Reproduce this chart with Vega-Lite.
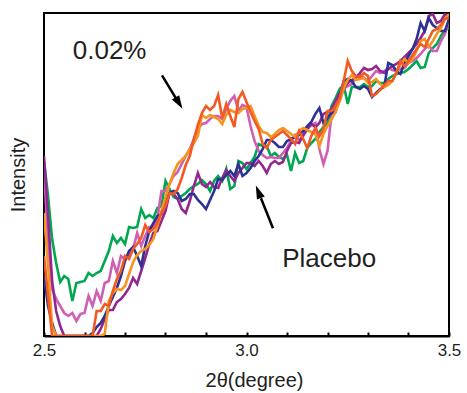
{
"$schema": "https://vega.github.io/schema/vega-lite/v6.json",
"width": 405, "height": 323,
"autosize": {"type": "none"},
"padding": {"left": 44, "top": 13, "right": 18, "bottom": 57},
"background": "white",
"config": {"view": {"stroke": "#000", "strokeWidth": 2}, "font": "Liberation Sans"},
"datasets": {
"xrd": [
{"x":2.50,"green":175,"pink":167,"purple":180,"blue":60,"orange":123,"red":80},
{"x":2.51,"green":140,"pink":95,"purple":120,"blue":30,"orange":70,"red":40},
{"x":2.52,"green":97,"pink":47,"purple":55,"blue":13,"orange":10,"red":0},
{"x":2.53,"green":73,"pink":37,"purple":25,"blue":0,"orange":0,"red":0},
{"x":2.54,"green":54,"pink":30,"purple":10,"blue":0,"orange":0,"red":0},
{"x":2.55,"green":60,"pink":23,"purple":0,"blue":0,"orange":0,"red":0},
{"x":2.56,"green":57,"pink":20,"purple":0,"blue":0,"orange":0,"red":0},
{"x":2.57,"green":35,"pink":23,"purple":0,"blue":0,"orange":0,"red":0},
{"x":2.58,"green":53,"pink":15,"purple":0,"blue":0,"orange":0,"red":0},
{"x":2.59,"green":54,"pink":22,"purple":0,"blue":0,"orange":0,"red":0},
{"x":2.60,"green":55,"pink":23,"purple":0,"blue":0,"orange":0,"red":0},
{"x":2.61,"green":63,"pink":40,"purple":0,"blue":0,"orange":0,"red":0},
{"x":2.62,"green":60,"pink":30,"purple":0,"blue":3,"orange":0,"red":0},
{"x":2.63,"green":63,"pink":45,"purple":0,"blue":9,"orange":0,"red":25},
{"x":2.64,"green":65,"pink":35,"purple":7,"blue":13,"orange":0,"red":25},
{"x":2.65,"green":75,"pink":53,"purple":17,"blue":20,"orange":2,"red":32},
{"x":2.66,"green":85,"pink":55,"purple":26,"blue":30,"orange":35,"red":30},
{"x":2.67,"green":100,"pink":75,"purple":26,"blue":39,"orange":43,"red":45},
{"x":2.68,"green":93,"pink":63,"purple":34,"blue":48,"orange":47,"red":57},
{"x":2.69,"green":98,"pink":80,"purple":37,"blue":60,"orange":46,"red":65},
{"x":2.70,"green":92,"pink":77,"purple":42,"blue":75,"orange":50,"red":80},
{"x":2.71,"green":109,"pink":81,"purple":48,"blue":85,"orange":62,"red":77},
{"x":2.72,"green":108,"pink":87,"purple":58,"blue":89,"orange":74,"red":87},
{"x":2.73,"green":109,"pink":103,"purple":52,"blue":80,"orange":81,"red":92},
{"x":2.74,"green":127,"pink":90,"purple":65,"blue":70,"orange":85,"red":98},
{"x":2.75,"green":118,"pink":100,"purple":78,"blue":90,"orange":87,"red":111},
{"x":2.76,"green":121,"pink":109,"purple":92,"blue":105,"orange":91,"red":104},
{"x":2.77,"green":118,"pink":109,"purple":103,"blue":113,"orange":97,"red":107},
{"x":2.78,"green":128,"pink":117,"purple":105,"blue":120,"orange":110,"red":113},
{"x":2.79,"green":130,"pink":145,"purple":115,"blue":122,"orange":125,"red":123},
{"x":2.80,"green":155,"pink":145,"purple":125,"blue":135,"orange":139,"red":130},
{"x":2.81,"green":147,"pink":152,"purple":143,"blue":143,"orange":152,"red":143},
{"x":2.82,"green":139,"pink":160,"purple":142,"blue":145,"orange":163,"red":142},
{"x":2.83,"green":137,"pink":164,"purple":137,"blue":143,"orange":172,"red":147},
{"x":2.84,"green":140,"pink":172,"purple":127,"blue":135,"orange":176,"red":158},
{"x":2.85,"green":143,"pink":180,"purple":123,"blue":137,"orange":180,"red":171},
{"x":2.86,"green":147,"pink":187,"purple":135,"blue":142,"orange":187,"red":180},
{"x":2.87,"green":150,"pink":197,"purple":150,"blue":142,"orange":193,"red":197},
{"x":2.88,"green":152,"pink":207,"purple":163,"blue":136,"orange":200,"red":211},
{"x":2.89,"green":156,"pink":212,"purple":152,"blue":132,"orange":221,"red":223},
{"x":2.90,"green":152,"pink":213,"purple":149,"blue":127,"orange":218,"red":230},
{"x":2.91,"green":145,"pink":217,"purple":154,"blue":136,"orange":221,"red":226},
{"x":2.92,"green":155,"pink":220,"purple":149,"blue":145,"orange":219,"red":230},
{"x":2.93,"green":160,"pink":220,"purple":148,"blue":157,"orange":217,"red":241},
{"x":2.94,"green":155,"pink":217,"purple":158,"blue":156,"orange":212,"red":218},
{"x":2.95,"green":167,"pink":227,"purple":166,"blue":161,"orange":221,"red":232},
{"x":2.96,"green":147,"pink":235,"purple":160,"blue":165,"orange":226,"red":220},
{"x":2.97,"green":150,"pink":240,"purple":155,"blue":160,"orange":224,"red":209},
{"x":2.98,"green":175,"pink":225,"purple":163,"blue":172,"orange":223,"red":237},
{"x":2.99,"green":173,"pink":231,"purple":168,"blue":160,"orange":227,"red":244},
{"x":3.00,"green":167,"pink":229,"purple":173,"blue":163,"orange":228,"red":234},
{"x":3.01,"green":173,"pink":210,"purple":173,"blue":168,"orange":230,"red":224},
{"x":3.02,"green":179,"pink":195,"purple":170,"blue":175,"orange":220,"red":215},
{"x":3.03,"green":192,"pink":185,"purple":175,"blue":180,"orange":210,"red":207},
{"x":3.04,"green":190,"pink":181,"purple":170,"blue":187,"orange":204,"red":192},
{"x":3.05,"green":190,"pink":178,"purple":163,"blue":196,"orange":203,"red":188},
{"x":3.06,"green":180,"pink":179,"purple":172,"blue":196,"orange":199,"red":196},
{"x":3.07,"green":183,"pink":178,"purple":175,"blue":193,"orange":202,"red":199},
{"x":3.08,"green":179,"pink":178,"purple":172,"blue":189,"orange":206,"red":202},
{"x":3.09,"green":177,"pink":183,"purple":174,"blue":189,"orange":208,"red":205},
{"x":3.10,"green":181,"pink":188,"purple":185,"blue":195,"orange":205,"red":201},
{"x":3.11,"green":165,"pink":195,"purple":193,"blue":197,"orange":202,"red":197},
{"x":3.12,"green":183,"pink":201,"purple":194,"blue":199,"orange":199,"red":192},
{"x":3.13,"green":173,"pink":196,"purple":193,"blue":201,"orange":205,"red":205},
{"x":3.14,"green":175,"pink":200,"purple":201,"blue":205,"orange":208,"red":197},
{"x":3.15,"green":188,"pink":207,"purple":207,"blue":210,"orange":206,"red":188},
{"x":3.16,"green":193,"pink":211,"purple":212,"blue":214,"orange":204,"red":200},
{"x":3.17,"green":197,"pink":213,"purple":209,"blue":222,"orange":202,"red":208},
{"x":3.18,"green":204,"pink":187,"purple":213,"blue":228,"orange":190,"red":200},
{"x":3.19,"green":209,"pink":172,"purple":222,"blue":213,"orange":202,"red":207},
{"x":3.20,"green":213,"pink":185,"purple":224,"blue":218,"orange":210,"red":225},
{"x":3.21,"green":230,"pink":222,"purple":227,"blue":223,"orange":217,"red":225},
{"x":3.22,"green":238,"pink":227,"purple":235,"blue":224,"orange":224,"red":230},
{"x":3.23,"green":247,"pink":235,"purple":243,"blue":240,"orange":235,"red":238},
{"x":3.24,"green":251,"pink":247,"purple":248,"blue":255,"orange":248,"red":255},
{"x":3.25,"green":232,"pink":250,"purple":253,"blue":257,"orange":256,"red":275},
{"x":3.26,"green":249,"pink":252,"purple":256,"blue":255,"orange":261,"red":265},
{"x":3.27,"green":249,"pink":259,"purple":258,"blue":249,"orange":256,"red":260},
{"x":3.28,"green":249,"pink":262,"purple":263,"blue":247,"orange":257,"red":259},
{"x":3.29,"green":252,"pink":258,"purple":268,"blue":250,"orange":258,"red":263},
{"x":3.30,"green":249,"pink":255,"purple":266,"blue":247,"orange":253,"red":260},
{"x":3.31,"green":250,"pink":260,"purple":267,"blue":239,"orange":254,"red":240},
{"x":3.32,"green":255,"pink":265,"purple":270,"blue":243,"orange":257,"red":242},
{"x":3.33,"green":253,"pink":263,"purple":265,"blue":247,"orange":252,"red":246},
{"x":3.34,"green":253,"pink":265,"purple":263,"blue":249,"orange":249,"red":251},
{"x":3.35,"green":257,"pink":268,"purple":267,"blue":273,"orange":251,"red":255},
{"x":3.36,"green":260,"pink":266,"purple":270,"blue":271,"orange":255,"red":255},
{"x":3.37,"green":262,"pink":265,"purple":272,"blue":265,"orange":264,"red":263},
{"x":3.38,"green":263,"pink":267,"purple":275,"blue":262,"orange":271,"red":275},
{"x":3.39,"green":264,"pink":268,"purple":279,"blue":273,"orange":277,"red":270},
{"x":3.40,"green":267,"pink":273,"purple":283,"blue":280,"orange":273,"red":275},
{"x":3.41,"green":271,"pink":275,"purple":287,"blue":287,"orange":277,"red":281},
{"x":3.42,"green":275,"pink":278,"purple":292,"blue":297,"orange":285,"red":287},
{"x":3.43,"green":268,"pink":282,"purple":298,"blue":313,"orange":295,"red":292},
{"x":3.44,"green":269,"pink":287,"purple":305,"blue":305,"orange":297,"red":289},
{"x":3.45,"green":283,"pink":291,"purple":320,"blue":318,"orange":289,"red":297},
{"x":3.46,"green":288,"pink":285,"purple":322,"blue":311,"orange":295,"red":305},
{"x":3.47,"green":292,"pink":285,"purple":313,"blue":308,"orange":302,"red":307},
{"x":3.48,"green":300,"pink":295,"purple":315,"blue":305,"orange":308,"red":311},
{"x":3.49,"green":306,"pink":302,"purple":322,"blue":305,"orange":317,"red":317},
{"x":3.50,"green":308,"pink":315,"purple":318,"blue":317,"orange":322,"red":318}
],
"notes": [
{"x":2.662,"y":277.4,"t":"0.02%"},
{"x":3.204,"y":69,"t":"Placebo"}
],
"arrows": [
{"x":2.7914,"y":260.7,"x2":2.8259,"y2":237.7},
{"x":3.0654,"y":107.7,"x2":3.0358,"y2":137.7}
],
"heads": [
{"x":2.8311,"y":234.4,"a":149},
{"x":3.0309,"y":142.6,"a":338}
]
},
"layer": [
{
"data": {"name": "xrd"},
"transform": [{"fold": ["green","pink","purple","blue","orange","red"], "as": ["series","intensity"]}],
"mark": {"type": "line", "strokeWidth": 2.6, "clip": true, "strokeJoin": "miter"},
"encoding": {
"x": {"field": "x", "type": "quantitative",
"scale": {"domain": [2.5, 3.5], "nice": false, "zero": false},
"axis": {"values": [2.5,2.55,2.6,2.65,2.7,2.75,2.8,2.85,2.9,2.95,3.0,3.05,3.1,3.15,3.2,3.25,3.3,3.35,3.4,3.45,3.5],
"labelExpr": "abs(datum.value*2 - round(datum.value*2)) < 0.001 ? format(datum.value, '.1f') : ''",
"tickSize": -4, "tickWidth": 2, "tickColor": "#000", "domainColor": "#000", "domainWidth": 2,
"labelFontSize": 17, "labelColor": "#231f20", "labelPadding": 10, "labelDx": 4, "labelFlush": false, "labelOverlap": false,
"grid": false, "title": "2θ(degree)", "titleFontSize": 20, "titleFontWeight": "normal", "titleColor": "#231f20", "titlePadding": 12, "titleX": 210}},
"y": {"field": "intensity", "type": "quantitative",
"scale": {"domain": [0, 323], "nice": false},
"axis": {"title": "Intensity", "labels": false, "ticks": false, "domain": false, "grid": false,
"titleFontSize": 20, "titleFontWeight": "normal", "titleColor": "#231f20", "titlePadding": 16}},
"color": {"field": "series", "type": "nominal",
"scale": {"domain": ["green","pink","purple","blue","orange","red"], "range": ["#00a650","#cf5fb4","#92278f","#2e3192","#f7941d","#f15a24"]},
"legend": null}
}
},
{
"data": {"name": "arrows"},
"mark": {"type": "rule", "strokeWidth": 2.5, "color": "#000"},
"encoding": {
"x": {"field": "x", "type": "quantitative"},
"y": {"field": "y", "type": "quantitative"},
"x2": {"field": "x2"},
"y2": {"field": "y2"}
}
},
{
"data": {"name": "heads"},
"mark": {"type": "point", "shape": "M0,-1.2L0.6,0.7L-0.6,0.7Z", "filled": true, "color": "#000", "opacity": 1, "size": 200, "strokeWidth": 0},
"encoding": {
"x": {"field": "x", "type": "quantitative"},
"y": {"field": "y", "type": "quantitative"},
"angle": {"field": "a", "type": "quantitative", "scale": null}
}
},
{
"data": {"name": "notes"},
"mark": {"type": "text", "fontSize": 26, "color": "#231f20", "align": "center", "baseline": "alphabetic"},
"encoding": {
"x": {"field": "x", "type": "quantitative"},
"y": {"field": "y", "type": "quantitative"},
"text": {"field": "t", "type": "nominal"}
}
}
]
}
